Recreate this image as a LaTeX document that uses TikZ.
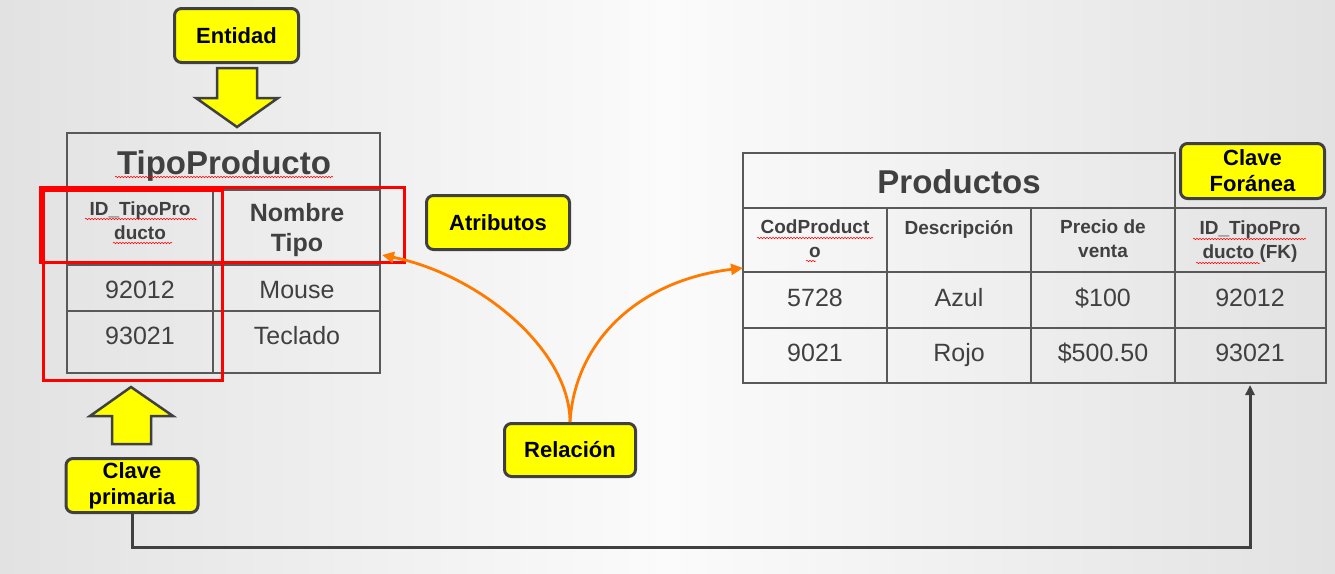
\documentclass[tikz,border=0pt]{standalone}
\usepackage{fontspec}
\setmainfont{Liberation Sans}
\usetikzlibrary{arrows.meta,decorations.pathmorphing}
\definecolor{bord}{HTML}{404040}
\definecolor{tline}{HTML}{595959}
\definecolor{ttext}{HTML}{404040}
\definecolor{yel}{HTML}{FFFF00}
\definecolor{org}{HTML}{FF7A00}
\definecolor{bgedge}{HTML}{E2E2E2}
\definecolor{bgmid}{HTML}{FBFBFB}
\begin{document}
\begin{tikzpicture}[x=1pt,y=-1pt,
  lbl/.style={draw=bord, line width=3pt, fill=yel, rounded corners=7pt,
    font=\fontsize{22}{26}\selectfont\bfseries, align=center, inner sep=0pt, text=black},
  blockarrow/.style={draw=bord, line width=2.5pt, fill=yel, line join=miter},
  tbl/.style={draw=tline, line width=1.5pt},
  redbox/.style={draw=red, line width=3pt},
  ttl/.style={font=\fontsize{33}{38}\selectfont\bfseries, text=ttext, anchor=base, inner sep=0pt},
  hdr/.style={font=\fontsize{19}{24}\selectfont\bfseries, text=ttext, align=center, inner sep=0pt},
  hdrbig/.style={font=\fontsize{25}{30}\selectfont\bfseries, text=ttext, align=center, inner sep=0pt},
  val/.style={font=\fontsize{25}{30}\selectfont, text=ttext, anchor=base, inner sep=0pt},
  relarrow/.style={draw=org, line width=2.8pt, -{Triangle[length=12pt,width=11pt]}},
  conn/.style={draw=bord, line width=3pt, -{Triangle[length=10pt,width=9pt]}},
  squig/.style={draw=red, line width=0.5pt, decorate, decoration={snake, amplitude=0.8pt, segment length=3pt}}
]
\useasboundingbox (0,0) rectangle (1335,573);
\shade[left color=bgedge, right color=bgedge, middle color=bgmid] (0,0) rectangle (1335,573);

% ---------- TipoProducto table ----------
\draw[tbl] (67,133) rectangle (380,373);
\draw[tbl] (67,190) -- (380,190);
\draw[tbl] (67,265) -- (380,265);
\draw[tbl] (67,311) -- (380,311);
\draw[tbl] (213,190) -- (213,373);
\node[ttl] (tptitle) at (224,174) {TipoProducto};
\node[hdr] (tpid) at (140,221) {ID\_TipoPro\\ducto};
\node[hdrbig] (tpnom) at (297,230) {Nombre\\Tipo};
\node[val] (tp11) at (140,298) {92012};
\node[val] (tp12) at (297,298) {Mouse};
\node[val] (tp21) at (140,344) {93021};
\node[val] (tp22) at (297,344) {Teclado};
\draw[squig] (115,177) -- (333,177);
\draw[squig] (85,219) -- (197,219);
\draw[squig] (113,243) -- (172,243);

% red highlight boxes
\draw[redbox] (40,187) rectangle (404,262);
\draw[redbox] (43,190) rectangle (222,380);

% ---------- Productos table ----------
\draw[tbl] (743,153) rectangle (1175,208);
\draw[tbl] (743,208) rectangle (1326,383);
\draw[tbl] (743,272) -- (1326,272);
\draw[tbl] (743,328) -- (1326,328);
\draw[tbl] (887,208) -- (887,383);
\draw[tbl] (1031,208) -- (1031,383);
\draw[tbl] (1175,208) -- (1175,383);
\node[ttl] (prtitle) at (959,193) {Productos};
\node[hdr] (pcod) at (815,239) {CodProduct\\o};
\node[hdr] (pdesc) at (959,229) {Descripción};
\node[hdr] (pprec) at (1103,239) {Precio de\\venta};
\node[hdr] (pfk) at (1250,242) {ID\_TipoPro\\ducto (FK)};
\node[val] (p11) at (815,306) {5728};
\node[val] (p12) at (959,306) {Azul};
\node[val] (p13) at (1103,306) {\$100};
\node[val] (p14) at (1250,306) {92012};
\node[val] (p21) at (815,361) {9021};
\node[val] (p22) at (959,361) {Rojo};
\node[val] (p23) at (1103,361) {\$500.50};
\node[val] (p24) at (1250,361) {93021};
\draw[squig] (757,238) -- (873,238);
\draw[squig] (806,261) -- (816,261);
\draw[squig] (1193,239) -- (1306,239);
\draw[squig] (1196,263) -- (1260,263);

% ---------- label boxes ----------
\node[lbl, minimum width=124pt, minimum height=54pt] (ent) at (236.5,35.5) {Entidad};
\node[lbl, minimum width=143pt, minimum height=54pt] (atr) at (498,222.5) {Atributos};
\node[lbl, minimum width=131pt, minimum height=53pt] (rel) at (570,450) {Relación};
\node[lbl, minimum width=132pt, minimum height=54pt] (cp) at (132,485.5) {Clave\\primaria};
\node[lbl, minimum width=144pt, minimum height=55pt] (cf) at (1252.5,171) {Clave\\Foránea};

% ---------- block arrows ----------
\draw[blockarrow] (217,68) -- (257,68) -- (257,98) -- (278,98) -- (237,127) -- (196,98) -- (217,98) -- cycle;
\draw[blockarrow] (112,444) -- (151,444) -- (151,416) -- (173,416) -- (131,387) -- (90,416) -- (112,416) -- cycle;

% ---------- relation arrows ----------
\coordinate (atrtip) at (382,255);
\coordinate (prodtip) at (743,268);
\draw[relarrow] (rel.north) .. controls (570,350) and (480,275) .. (atrtip);
\draw[relarrow] (rel.north) .. controls (575,340) and (640,280) .. (prodtip);

% ---------- primary/foreign key connector ----------
\coordinate (fkbot) at (1250,385);
\draw[conn] (cp.south) -- ++(0,33) -| (fkbot);
\end{tikzpicture}
\end{document}
